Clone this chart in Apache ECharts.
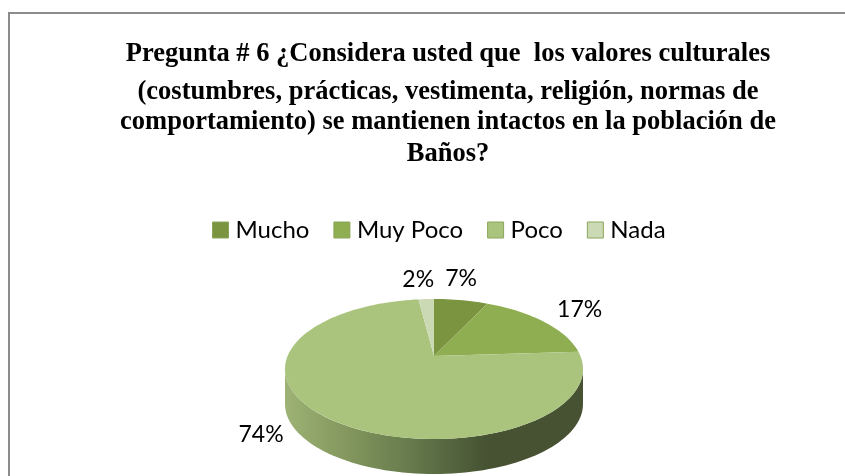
<!DOCTYPE html>
<html><head><meta charset="utf-8">
<style>html,body{margin:0;padding:0;background:#fff}#c{width:845px;height:476px}</style>
<script src="https://cdn.jsdelivr.net/npm/echarts@6/dist/echarts.min.js"></script>
</head><body><div id="c"></div>
<script>
const titleLines = [
  'Pregunta # 6 ¿Considera usted que  los valores culturales',
  '(costumbres, prácticas, vestimenta, religión, normas de',
  'comportamiento) se mantienen intactos en la población de',
  'Baños?'
];
const titleTops = [41, 79, 109, 141];
const categories = ['Mucho', 'Muy Poco', 'Poco', 'Nada'];
const values = [7, 17, 74, 2];
const sliceColors = ['#7b9440', '#8fae52', '#aac47e', '#ccd9b5'];
const labelNudge = [[0, -22], [36, -12], [-64, 18], [-8, -20]];

const CX = 434, CY = 356, RX = 146.4, KY = 67.6, Q = 0.186, DEPTH = 35;
const total = values.reduce((a, b) => a + b, 0);
function project(deg, r) {
  const t = deg * Math.PI / 180, u = r * Math.sin(t), v = -r * Math.cos(t), d = 1 - Q * v;
  return [CX + RX * u / d, CY + KY * v / d];
}
function arcPoints(a0, a1) {
  const pts = [], n = Math.max(2, Math.ceil((a1 - a0) / 2));
  for (let i = 0; i <= n; i++) pts.push(project(a0 + (a1 - a0) * i / n, 1));
  return pts;
}
const starts = values.map((_, i) => values.slice(0, i).reduce((a, b) => a + b, 0));

const wallSeries = {
  type: 'custom', name: '__wall', coordinateSystem: 'none', silent: true, z: 1,
  data: [[values[2], starts[2]]],
  renderItem() {
    const rim = arcPoints(60, 300);
    let l = 0, r = 0;
    rim.forEach((p, i) => { if (p[0] < rim[l][0]) l = i; if (p[0] > rim[r][0]) r = i; });
    const front = rim.slice(r, l + 1);
    const back = front.map(p => [p[0], p[1] + DEPTH]).reverse();
    return {
      type: 'polygon',
      shape: { points: front.concat(back) },
      style: {
        fill: new echarts.graphic.LinearGradient(0, 0, 1, 0, [
          { offset: 0, color: '#9db274' },
          { offset: 0.2, color: '#84985f' },
          { offset: 0.45, color: '#62764a' },
          { offset: 0.68, color: '#465232' },
          { offset: 1, color: '#465232' }
        ])
      }
    };
  }
};

const sliceSeries = categories.map((name, i) => ({
  type: 'custom', name, coordinateSystem: 'none', z: 2,
  itemStyle: { color: sliceColors[i] },
  data: [[values[i], starts[i]]],
  renderItem(params, api) {
    const v = api.value(0), s = api.value(1);
    const a0 = s / total * 360, a1 = (s + v) / total * 360;
    const pts = [[CX, CY]].concat(arcPoints(a0, a1));
    const mid = project((a0 + a1) / 2, 1);
    return {
      type: 'group',
      children: [
        { type: 'polygon', shape: { points: pts }, style: { fill: sliceColors[i] } },
        {
          type: 'text', z2: 10,
          style: {
            x: mid[0] + labelNudge[i][0], y: mid[1] + labelNudge[i][1],
            text: Math.round(v / total * 100) + '%',
            fill: '#000', font: '23px Lato', align: 'center', verticalAlign: 'middle'
          }
        }
      ]
    };
  }
}));

const chart = echarts.init(document.getElementById('c'), null, { renderer: 'canvas' });
chart.setOption({
  animation: false,
  backgroundColor: '#ffffff',
  title: titleLines.map((text, i) => ({
    text, left: 448, top: titleTops[i], textAlign: 'center', padding: 0,
    textStyle: { fontFamily: 'Liberation Serif', fontWeight: 'bold', fontSize: 26.5, color: '#000' }
  })),
  legend: {
    data: categories, top: 218, left: 212, itemWidth: 16, itemHeight: 16, itemGap: 24, padding: 0,
    icon: 'rect', textStyle: { fontFamily: 'Lato', fontSize: 24, color: '#000', padding: [0, 0, 0, 2] },
    itemStyle: { borderColor: '#8aa65a', borderWidth: 1 }
  },
  graphic: [{
    type: 'rect', silent: true, z: -1,
    shape: { x: 9, y: 13, width: 860, height: 490 },
    style: { fill: 'none', stroke: '#8c8c8c', lineWidth: 2 }
  }],
  series: [wallSeries].concat(sliceSeries)
});
</script></body></html>
